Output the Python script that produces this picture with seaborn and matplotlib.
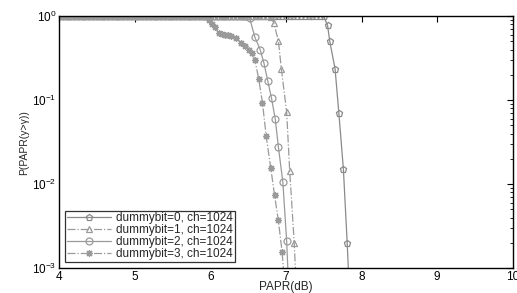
import numpy as np
import pandas as pd
import matplotlib
matplotlib.use('Agg')
import matplotlib.pyplot as plt
import seaborn as sns

# PAPR thresholds where every curve is still at 1 (dense sample grid, 0.05 dB)
flat_grid = np.round(np.arange(4.0, 8.0, 0.05), 2)

# dummybit=0
papr_d0 = [7.50, 7.55, 7.58, 7.65, 7.70, 7.76, 7.81, 7.86]
ccdf_d0 = [0.99, 0.78, 0.50, 0.235, 0.07, 0.015, 0.002, 0.0002]
# dummybit=1
papr_d1 = [6.80, 6.84, 6.90, 6.94, 7.01, 7.05, 7.11, 7.16]
ccdf_d1 = [0.98, 0.83, 0.51, 0.235, 0.072, 0.0145, 0.002, 0.0002]
# dummybit=2
papr_d2 = [6.47, 6.52, 6.59, 6.66, 6.71, 6.76, 6.81, 6.86, 6.90, 6.96, 7.01, 7.05]
ccdf_d2 = [0.99, 0.95, 0.56, 0.40, 0.275, 0.17, 0.105, 0.059, 0.028, 0.0105, 0.0021, 0.0003]
# dummybit=3
papr_d3 = [5.95, 5.98, 6.02, 6.06, 6.11, 6.15, 6.19, 6.23, 6.28, 6.34, 6.41, 6.46,
           6.51, 6.55, 6.59, 6.64, 6.69, 6.74, 6.80, 6.85, 6.90, 6.95, 7.00]
ccdf_d3 = [0.99, 0.90, 0.80, 0.74, 0.63, 0.61, 0.60, 0.59, 0.58, 0.55, 0.48, 0.44,
           0.40, 0.36, 0.30, 0.18, 0.093, 0.037, 0.0155, 0.0074, 0.0037, 0.00155, 0.0004]

labels = ['dummybit=0, ch=1024', 'dummybit=1, ch=1024',
          'dummybit=2, ch=1024', 'dummybit=3, ch=1024']
series = [(papr_d0, ccdf_d0), (papr_d1, ccdf_d1), (papr_d2, ccdf_d2), (papr_d3, ccdf_d3)]

frames = []
for label, (px, py) in zip(labels, series):
    fx = [v for v in flat_grid if v < px[0] - 0.01]
    xs = list(fx) + list(px)
    ys = [1.0] * len(fx) + list(py)
    frames.append(pd.DataFrame({'PAPR': xs, 'CCDF': ys, 'series': label}))
df = pd.concat(frames, ignore_index=True)

sns.set_style('white')
plt.rcParams['font.family'] = ['Liberation Sans', 'DejaVu Sans']

fig = plt.figure(figsize=(5.17, 2.93), dpi=100)
ax = fig.add_axes([0.114, 0.085, 0.878, 0.860])

styles = {
    labels[0]: dict(color='#8a8a8a', linestyle='-', marker='p'),
    labels[1]: dict(color='#9a9a9a', linestyle='-.', marker='^'),
    labels[2]: dict(color='#9a9a9a', linestyle='-', marker='o'),
    labels[3]: dict(color='#9a9a9a', linestyle='-.', marker=(8, 2, 0)),
}

for label in labels:
    sub = df[df['series'] == label]
    st = styles[label]
    sns.lineplot(data=sub, x='PAPR', y='CCDF', ax=ax, sort=False, estimator=None,
                 color=st['color'], linestyle=st['linestyle'], marker=st['marker'],
                 markersize=5, markerfacecolor='none', markeredgecolor=st['color'],
                 markeredgewidth=0.9, linewidth=0.9, label=label)

ax.set_yscale('log')
ax.set_xlim(4, 10)
ax.set_ylim(1e-3, 1.0)
ax.set_xticks([4, 5, 6, 7, 8, 9, 10])
ax.set_yticks([1e-3, 1e-2, 1e-1, 1e0])
ax.tick_params(axis='both', which='both', direction='in', top=True, right=True,
               labelsize=8.5, colors='black', pad=2)
ax.tick_params(which='major', length=4)
ax.tick_params(which='minor', length=2)
for sp in ax.spines.values():
    sp.set_color('black')
    sp.set_linewidth(1.0)

ax.set_xlabel('PAPR(dB)', fontsize=8.5, labelpad=-1)
ax.set_ylabel('P(PAPR(y>γ))', fontsize=7.5, labelpad=2)

leg = ax.legend(loc='lower left', fontsize=8.5, frameon=True, fancybox=False,
                borderpad=0.15, labelspacing=0.0, handlelength=3.8,
                handletextpad=0.4, borderaxespad=0.5)
leg.get_frame().set_edgecolor('black')
leg.get_frame().set_linewidth(0.9)

plt.savefig('out.png', dpi=100)
plt.close()
